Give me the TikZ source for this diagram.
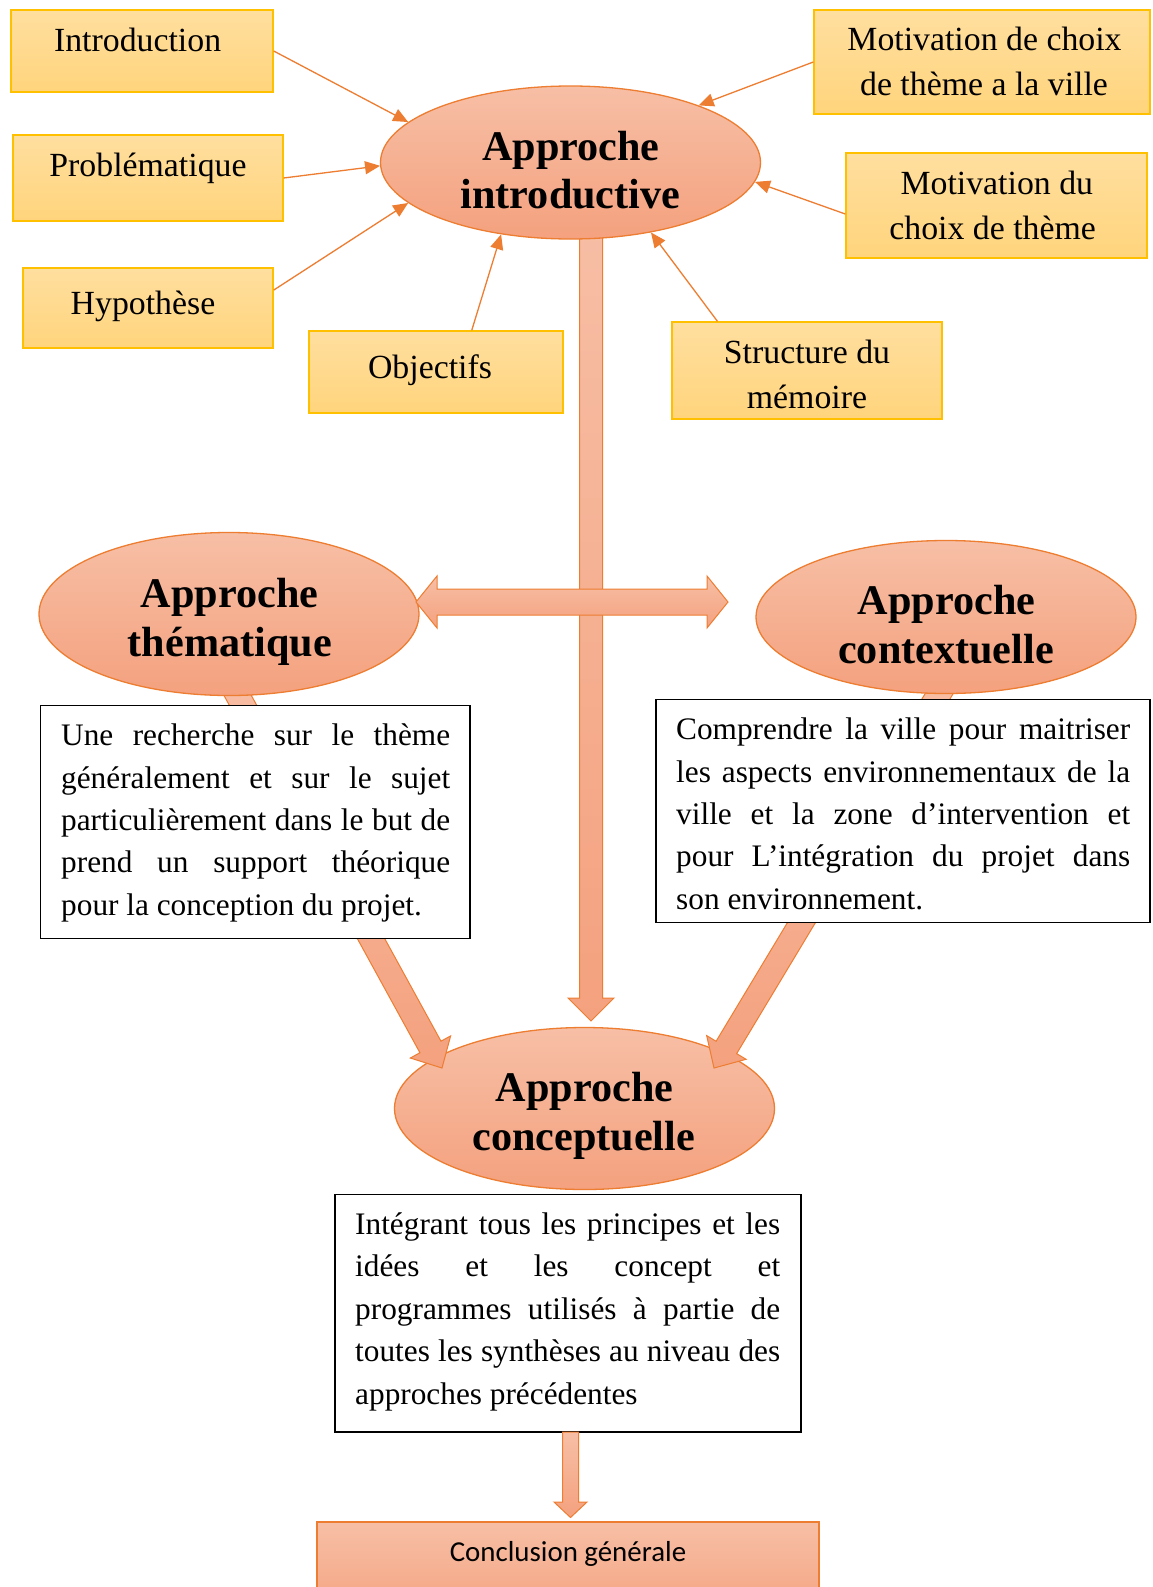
\documentclass[tikz,border=0pt]{standalone}
\usepackage{fontspec}
\setmainfont{Liberation Serif}
\newfontfamily\calib{Carlito}
\usetikzlibrary{shapes.geometric,arrows.meta,calc}
\definecolor{acc}{HTML}{ED7D31}
\definecolor{salT}{HTML}{F7BFA6}
\definecolor{salB}{HTML}{F4A17E}
\definecolor{yelT}{HTML}{FFDF9F}
\definecolor{yelB}{HTML}{FFD47C}
\definecolor{yelL}{HTML}{FFC000}
% #1 start, #2 tip, #3 half shaft, #4 half head, #5 head length
\newcommand\fatarrow[5]{%
  \coordinate (fab) at ($(#2)!#5!(#1)$);
  \path[fat] ($(#1)!#3!90:(#2)$) -- ($(fab)!#3!90:(#2)$) -- ($(fab)!#4!90:(#2)$) -- (#2)
    -- ($(fab)!#4!-90:(#2)$) -- ($(fab)!#3!-90:(#2)$) -- ($(#1)!#3!-90:(#2)$) -- cycle;
}
\newcommand\dblarrow[5]{%
  \coordinate (daa) at ($(#1)!#5!(#2)$);
  \coordinate (dab) at ($(#2)!#5!(#1)$);
  \path[fat] (#1) -- ($(daa)!#4!90:(#2)$) -- ($(daa)!#3!90:(#2)$) -- ($(dab)!#3!90:(#2)$)
    -- ($(dab)!#4!90:(#2)$) -- (#2) -- ($(dab)!#4!-90:(#2)$) -- ($(dab)!#3!-90:(#2)$)
    -- ($(daa)!#3!-90:(#2)$) -- ($(daa)!#4!-90:(#2)$) -- cycle;
}
\begin{document}
\begin{tikzpicture}[x=1pt,y=-1pt,
  ybox/.style={rectangle, draw=yelL, line width=1.4pt, top color=yelT, bottom color=yelB, inner sep=0},
  ell/.style={ellipse, draw=acc, line width=1.3pt, top color=salT, bottom color=salB, inner sep=0},
  cbox/.style={rectangle, draw=acc, line width=1.3pt, top color=salT, bottom color=salB, inner sep=0},
  pbox/.style={rectangle, draw=black, line width=1.6pt, fill=white, inner sep=0},
  fat/.style={draw=acc, line width=1pt, top color=salT, bottom color=salB},
  thinarrow/.style={draw=acc, line width=1.3pt, -{Triangle[length=15pt,width=13pt]}},
  lbl/.style={inner sep=0, anchor=base, font=\fontsize{33.8}{45}\selectfont},
  ttl/.style={inner sep=0, anchor=base, font=\fontsize{42.2}{48}\selectfont\bfseries},
  para/.style={inner sep=0, anchor=north west, align=justify, font=\fontsize{31.3}{42.4}\selectfont},
]
\fill[white] (0,0) rectangle (1152,1587);
\useasboundingbox (0,0) rectangle (1152,1587);

\node[ell, minimum width=380, minimum height=162] (conc) at (584.5,1108.5) {};

% main vertical arrow (starts hidden under the introductive ellipse)
\coordinate (vs) at (591,200);
\coordinate (vt) at (591,1021);
\fatarrow{vs}{vt}{11.5pt}{23pt}{23pt}

% diagonal arrows (start hidden under the upper ellipses)
\coordinate (ls) at (223.2,669.1);
\coordinate (ltip) at (442,1068);
\coordinate (rs) at (954.8,667.6);
\coordinate (rtip) at (714,1068);
\fatarrow{ls}{ltip}{12pt}{23pt}{24pt}
\fatarrow{rs}{rtip}{12pt}{23pt}{24pt}

\node[ell, minimum width=380, minimum height=153] (intro) at (570.5,162.5) {};
\node[ell, minimum width=380, minimum height=163] (them) at (229,614) {};
\node[ell, minimum width=380, minimum height=153] (ctx) at (946,617) {};

% horizontal double arrow
\coordinate (hl) at (416,602);
\coordinate (hr) at (728,602);
\dblarrow{hl}{hr}{13pt}{26pt}{21pt}

% yellow boxes
\node[ybox, minimum width=262, minimum height=82] (introbox) at (142,51) {};
\node[ybox, minimum width=270, minimum height=86] (probbox) at (148,178) {};
\node[ybox, minimum width=250, minimum height=80] (hypbox) at (148,308) {};
\node[ybox, minimum width=254, minimum height=82] (objbox) at (436,372) {};
\node[ybox, minimum width=270, minimum height=97] (structbox) at (807,370.5) {};
\node[ybox, minimum width=336, minimum height=104] (mabox) at (982,62) {};
\node[ybox, minimum width=301, minimum height=105] (mbbox) at (996.5,205.5) {};

% thin arrows
\draw[thinarrow] (introbox.east) -- (intro.166);
\draw[thinarrow] (probbox.east) -- (intro.181);
\draw[thinarrow] ($(hypbox.north east)!0.28!(hypbox.south east)$) -- (intro.194);
\draw[thinarrow] ($(objbox.north west)!0.64!(objbox.north east)$) -- (intro.226);
\draw[thinarrow] ($(structbox.north west)!0.17!(structbox.north east)$) -- (intro.319);
\draw[thinarrow] (mabox.west) -- (intro.24);
\draw[thinarrow] ($(mbbox.north west)!0.58!(mbbox.south west)$) -- (intro.354);

% labels
\node[lbl] (tintro) at (137.6,51.7) {Introduction};
\node[lbl] (tprob) at (148,176) {Problématique};
\node[lbl] (thyp) at (143,314) {Hypothèse};
\node[lbl] (tobj) at (430,378) {Objectifs};
\node[lbl] (tma1) at (984.5,50.7) {Motivation de choix};
\node[lbl] (tma2) at (984,95.5) {de thème a la ville};
\node[lbl] (tmb1) at (996.8,194) {Motivation du};
\node[lbl] (tmb2) at (992.6,239) {choix de thème};
\node[lbl] (tst1) at (807,363) {Structure du};
\node[lbl] (tst2) at (807,408) {mémoire};

% titles
\node[ttl] (t1a) at (571,160) {Approche};
\node[ttl] (t1b) at (570.5,208.5) {introductive};
\node[ttl] (t2a) at (229.5,607) {Approche};
\node[ttl] (t2b) at (229.8,656) {thématique};
\node[ttl] (t3a) at (946.5,614.5) {Approche};
\node[ttl] (t3b) at (946,663) {contextuelle};
\node[ttl] (t4a) at (584.6,1101.5) {Approche};
\node[ttl] (t4b) at (583.6,1150) {conceptuelle};

% paragraph boxes
\node[pbox, minimum width=429.5, minimum height=233] (lpara) at (255.2,822) {};
\node[pbox, minimum width=494, minimum height=223] (rpara) at (903,810.8) {};
\node[pbox, minimum width=466, minimum height=237.5] (bpara) at (568,1313.2) {};

\node[para, text width=389] (lptext) at (61,723.7) {Une recherche sur le thème\linebreak généralement et sur le sujet\linebreak particulièrement dans le but de\linebreak prend un support théorique\linebreak pour la conception du projet.};
\node[para, text width=454] (rptext) at (676,717.7) {Comprendre la ville pour maitriser\linebreak les aspects environnementaux de la\linebreak ville et la zone d’intervention et\linebreak pour L’intégration du projet dans\linebreak son environnement.};
\node[para, text width=425] (bptext) at (355,1212.5) {Intégrant tous les principes et les\linebreak idées et les concept et\linebreak programmes utilisés à partie de\linebreak toutes les synthèses au niveau des\linebreak approches précédentes};

% conclusion
\begin{scope}
\clip (0,0) rectangle (1152,1587);
\node[cbox, minimum width=502, minimum height=100] (concl) at (568,1572) {};
\end{scope}
\node[inner sep=0, anchor=base, font=\calib\fontsize{28.9}{34}\selectfont] (tconcl) at (568,1561) {Conclusion générale};

\coordinate (bs) at (570.5,1432);
\coordinate (bt) at (570.5,1517.5);
\fatarrow{bs}{bt}{8pt}{16.5pt}{15.5pt}
\end{tikzpicture}
\end{document}
